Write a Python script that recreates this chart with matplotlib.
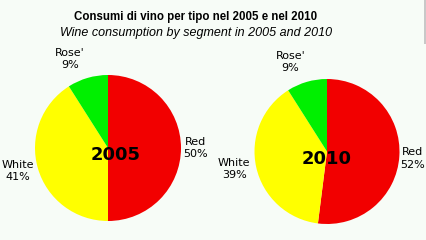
import matplotlib
matplotlib.use("Agg")
import matplotlib.pyplot as plt
from matplotlib.patches import Rectangle
import numpy as np

labels = ["Red", "White", "Rose'"]
values_2005 = [50, 41, 9]
values_2010 = [52, 39, 9]
colors = ["#f20000", "#ffff00", "#00f000"]
bg = "#f7fcf7"

W, H = 426, 240
fig = plt.figure(figsize=(W / 100, H / 100), dpi=100, facecolor=bg)

def pie_axes(cx, cy, r):
    return fig.add_axes([(cx - r) / W, (H - cy - r) / H, 2 * r / W, 2 * r / H])

def draw(ax, vals, year, year_pos, label_dist):
    wedges, texts = ax.pie(vals, colors=colors, startangle=90, counterclock=False,
                           labels=[f"{l}\n{v}%" for l, v in zip(labels, vals)],
                           labeldistance=1.0,
                           wedgeprops=dict(linewidth=0),
                           textprops=dict(fontsize=8, family="DejaVu Sans"))
    # place each label by hand around its wedge
    for w, t, d in zip(wedges, texts, label_dist):
        ang = np.deg2rad((w.theta1 + w.theta2) / 2 + d[1])
        t.set_position((d[0] * np.cos(ang), d[0] * np.sin(ang)))
        t.set_ha("center")
        t.set_va("center")
        t.set_multialignment("center")
        t.set_linespacing(1.3)
    ax.text(year_pos[0], year_pos[1], year, ha="center", va="center",
            fontsize=13, fontweight="bold")
    ax.set_xlim(-1, 1)
    ax.set_ylim(-1, 1)
    ax.set_aspect("equal")
    ax.axis("off")

ax1 = pie_axes(108, 148, 73)
draw(ax1, values_2005, "2005", (0.1, -0.09), [(1.2, 0), (1.28, -2), (1.33, 7)])
ax2 = pie_axes(327, 151.5, 72.5)
draw(ax2, values_2010, "2010", (0.0, -0.1), [(1.18, -1), (1.3, -2), (1.33, 6)])

fig.text(196 / W, 1 - 17 / H, "Consumi di vino per tipo nel 2005 e nel 2010",
         ha="center", va="center", fontsize=8.3, fontweight="bold",
         family="Liberation Sans")
fig.text(196 / W, 1 - 33 / H, "Wine consumption by segment in 2005 and 2010",
         ha="center", va="center", fontsize=9, style="italic",
         family="Liberation Sans")

fig.add_artist(Rectangle((424 / W, 1 - 44 / H), 2 / W, 44 / H,
                         transform=fig.transFigure, color="#c8c8c8", lw=0))

fig.savefig("out.png", dpi=100, facecolor=bg)
